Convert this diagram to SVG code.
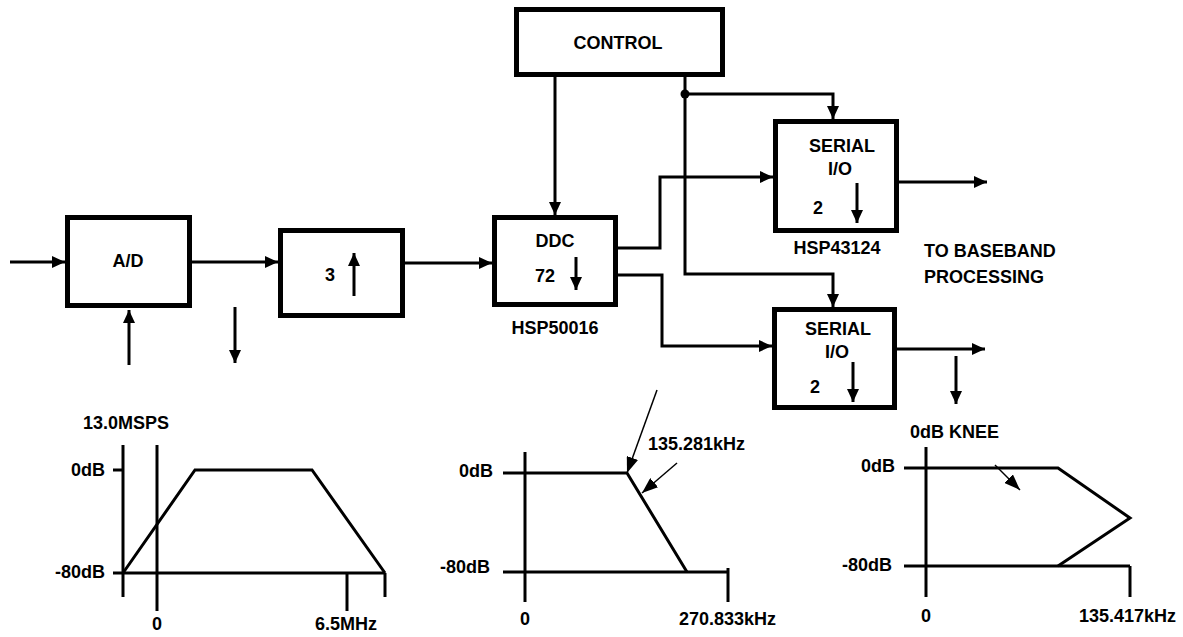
<svg xmlns="http://www.w3.org/2000/svg" width="1183" height="637" viewBox="0 0 1183 637">
<style>
text{font-family:"Liberation Sans",Arial,sans-serif;font-weight:bold;font-size:18px;fill:#000}
.box{fill:#fff;stroke:#000;stroke-width:5}
.ln{fill:none;stroke:#000;stroke-width:3}
.thin{fill:none;stroke:#000;stroke-width:1.5}
.mid{text-anchor:middle}
.end{text-anchor:end}
</style>
<defs>
<marker id="ah" markerUnits="userSpaceOnUse" markerWidth="13" markerHeight="12" refX="13" refY="6" orient="auto"><path d="M0,0 L13,6 L0,12 z" fill="#000"/></marker>
<marker id="ahT" markerUnits="userSpaceOnUse" markerWidth="16" markerHeight="12" refX="16" refY="6" orient="auto"><path d="M0,0 L16,6 L0,12 z" fill="#000"/></marker>
</defs>
<rect width="1183" height="637" fill="#fff"/>

<g id="connectors">
<path class="ln" d="M10,262 H65" marker-end="url(#ah)"/>
<path class="ln" d="M192,262 H278" marker-end="url(#ah)"/>
<path class="ln" d="M405,263 H492" marker-end="url(#ah)"/>
<path class="ln" d="M129,365 V310" marker-end="url(#ah)"/>
<path class="ln" d="M235,307 V363" marker-end="url(#ah)"/>
<path class="ln" d="M555,77 V215" marker-end="url(#ah)"/>
<path class="ln" d="M685,77 V274 H833 V307" marker-end="url(#ah)"/>
<path class="ln" d="M685,94 H833 V119" marker-end="url(#ah)"/>
<circle cx="685" cy="94" r="4.5" fill="#000"/>
<path class="ln" d="M618,248 H660 V177 H773" marker-end="url(#ah)"/>
<path class="ln" d="M618,275 H662 V346 H772" marker-end="url(#ah)"/>
<path class="ln" d="M899,182 H987" marker-end="url(#ah)"/>
<path class="ln" d="M897,349 H985" marker-end="url(#ah)"/>
<path class="ln" d="M956,356 V404" marker-end="url(#ah)"/>
</g>

<g id="ad">
<rect class="box" x="67.5" y="217.5" width="122" height="88"/>
<text class="mid" x="128" y="267">A/D</text>
</g>

<g id="interp">
<rect class="box" x="280.5" y="230.5" width="122" height="85"/>
<text class="mid" x="330" y="281">3</text>
<path class="ln" d="M354,296 V253" marker-end="url(#ah)"/>
</g>

<g id="control">
<rect class="box" x="516.5" y="9.5" width="206" height="65"/>
<text class="mid" x="618" y="49">CONTROL</text>
</g>

<g id="ddc">
<rect class="box" x="494.5" y="217.5" width="121" height="87"/>
<text class="mid" x="555" y="247">DDC</text>
<text class="mid" x="545" y="282">72</text>
<path class="ln" d="M576,257 V290" marker-end="url(#ah)"/>
<text class="mid" x="555" y="334">HSP50016</text>
</g>

<g id="serial1">
<rect class="box" x="775.5" y="121.5" width="121" height="109"/>
<text class="mid" x="842" y="152">SERIAL</text>
<text class="mid" x="840" y="175">I/O</text>
<text class="mid" x="818" y="214">2</text>
<path class="ln" d="M857,183 V223" marker-end="url(#ah)"/>
<text class="mid" x="837" y="254">HSP43124</text>
</g>

<g id="serial2">
<rect class="box" x="774.5" y="309.5" width="120" height="98"/>
<text class="mid" x="838" y="335">SERIAL</text>
<text class="mid" x="837" y="358">I/O</text>
<text class="mid" x="815" y="393">2</text>
<path class="ln" d="M853,362 V402" marker-end="url(#ah)"/>
</g>

<g id="baseband">
<text x="924" y="257">TO BASEBAND</text>
<text x="924" y="283">PROCESSING</text>
</g>

<g id="graph1">
<text x="83" y="429">13.0MSPS</text>
<text class="end" x="105" y="476">0dB</text>
<text class="end" x="105" y="578">-80dB</text>
<path class="ln" d="M123,445 V597"/>
<path class="ln" d="M157,445 V611"/>
<path class="ln" d="M113,470 H123"/>
<path class="ln" d="M113,573 H385"/>
<path class="ln" d="M123,573 L195,470 H312 L385,573"/>
<path class="ln" d="M385,573 V597"/>
<path class="ln" d="M347,573 V611"/>
<text class="mid" x="157" y="630">0</text>
<text x="315" y="630">6.5MHz</text>
</g>

<g id="graph2">
<text x="648" y="450">135.281kHz</text>
<text class="end" x="493" y="477">0dB</text>
<text class="end" x="490" y="573">-80dB</text>
<path class="ln" d="M525,452 V602"/>
<path class="ln" d="M503,473 H627 L687,572"/>
<path class="ln" d="M503,572 H728"/>
<path class="ln" d="M728,568 V602"/>
<path class="thin" d="M657,390 L627,473" marker-end="url(#ahT)"/>
<path class="thin" d="M677,463 L642,493" marker-end="url(#ahT)"/>
<text class="mid" x="525" y="625">0</text>
<text x="679" y="625">270.833kHz</text>
</g>

<g id="graph3">
<text x="910" y="438">0dB KNEE</text>
<text class="end" x="895" y="472">0dB</text>
<text class="end" x="892" y="571">-80dB</text>
<path class="ln" d="M926,447 V597"/>
<path class="ln" d="M904,468 H1058 L1130,518 L1058,566"/>
<path class="ln" d="M904,566 H1130"/>
<path class="ln" d="M1130,566 V597"/>
<path class="thin" d="M995,465 L1020,490" marker-end="url(#ahT)"/>
<text class="mid" x="926" y="622">0</text>
<text x="1079" y="622">135.417kHz</text>
</g>
</svg>
